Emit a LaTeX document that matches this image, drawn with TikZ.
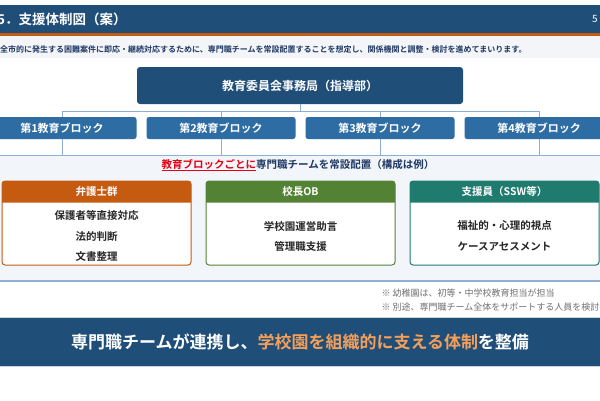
\documentclass[tikz,border=0pt]{standalone}
\usepackage{fontspec}
\setmainfont{Noto Sans CJK JP}[BoldFont={* Bold}]
\usepackage{xcolor}
\usepackage{tikz}
\usetikzlibrary{positioning,calc}
\definecolor{navy800}{HTML}{1F4E79}
\definecolor{navy900}{HTML}{1F3864}
\definecolor{blue600}{HTML}{2E6DA4}
\definecolor{blue300}{HTML}{8EAFD4}
\definecolor{band50}{HTML}{F2F6FB}
\definecolor{gray50}{HTML}{F3F5F8}
\definecolor{gray600}{HTML}{707070}
\definecolor{ink800}{HTML}{262626}
\definecolor{orange600}{HTML}{C55A11}
\definecolor{orange300}{HTML}{F5A05A}
\definecolor{green700}{HTML}{548235}
\definecolor{teal700}{HTML}{1E7B6E}
\definecolor{red600}{HTML}{E60012}
\newcommand{\fsz}[1]{\fontsize{#1}{#1}\selectfont}
\tikzset{
  hq/.style={
    rectangle, rounded corners=3pt, fill=navy800,
    minimum width=326pt, minimum height=37pt,
    text=white, font=\bfseries\fsz{12}
  },
  blk/.style={
    rectangle, rounded corners=2.5pt, fill=blue600,
    minimum width=149pt, minimum height=22pt,
    text=white, font=\bfseries\fsz{11}
  },
  link/.style={draw=blue300, line width=1pt},
  card/.style={
    rectangle, rounded corners=3pt, draw=#1, line width=1pt, fill=white,
    minimum width=189pt, minimum height=84pt
  },
  cardhead/.style={text=white, font=\bfseries\fsz{10.5}},
  cardbody/.style={
    align=center, text=ink800,
    font=\bfseries\fontsize{10.5}{20.5}\selectfont
  },
  note/.style={anchor=west, text=gray600, font=\fsz{9}},
}

\begin{document}
\begin{tikzpicture}[x=1pt, y=-1pt]
  \useasboundingbox (0,0) rectangle (600,400);
  \fill[white] (0,0) rectangle (600,400);
  \fill[navy800] (-1,5) rectangle (601,33);
  \fill[orange600] (-1,33) rectangle (601,36);
  \fill[gray50] (-1,36) rectangle (601,58);
  \node[anchor=west, inner sep=0pt, text=white, font=\bfseries\fsz{13.5}] (title) at (-3,19.5) {5．支援体制図（案）};
  \node[anchor=west, inner sep=0pt, text=white, font=\fsz{10}] (pageno) at (592,19.5) {5 /};
  \node[anchor=west, inner sep=0pt, text=navy900, font=\bfseries\fsz{8}] (lead) at (0,49) {全市的に発生する困難案件に即応・継続対応するために、専門職チームを常設配置することを想定し、関係機関と調整・検討を進めてまいります。};

  \node[hq] (hq) at (300,85.5) {教育委員会事務局（指導部）};
  \node[blk] (blk1) at (62,128) {第1教育ブロック};
  \node[blk] (blk2) at (221,128) {第2教育ブロック};
  \node[blk] (blk3) at (380,128) {第3教育ブロック};
  \node[blk] (blk4) at (539,128) {第4教育ブロック};
  \coordinate (bus) at (300,111);
  \coordinate (bandtop) at (0,155);
  \draw[link] (hq.south) -- (bus);
  \draw[link] (blk1.north) |- (bus);
  \draw[link] (blk2.north) |- (bus);
  \draw[link] (blk3.north) |- (bus);
  \draw[link] (blk4.north) |- (bus);

  \fill[band50] (-1,155) rectangle (601,281);
  \draw[draw=blue300, line width=0.8pt] (-1,155) -- (601,155);
  \draw[draw=blue300, line width=1.2pt] (-1,281) -- (601,281);
  \draw[link] (blk1.south) -- (blk1.south |- bandtop);
  \draw[link] (blk2.south) -- (blk2.south |- bandtop);
  \draw[link] (blk3.south) -- (blk3.south |- bandtop);
  \draw[link] (blk4.south) -- (blk4.south |- bandtop);

  \node[font=\bfseries\fsz{10.5}, text=navy900] (teamnote) at (298,165) {\textcolor{red600}{\underline{教育ブロックごとに}}専門職チームを常設配置（構成は例）};

  \node[card=orange600] (card1) at (96.5,223) {};
  \node[card=green700] (card2) at (300.5,223) {};
  \node[card=teal700] (card3) at (504.5,223) {};
  \fill[orange600] ($(card1.north west)+(0.5,22)$) [rounded corners=3pt] -- ($(card1.north west)+(0.5,0.5)$) -- ($(card1.north east)+(-0.5,0.5)$) [sharp corners] -- ($(card1.north east)+(-0.5,22)$) -- cycle;
  \fill[green700] ($(card2.north west)+(0.5,22)$) [rounded corners=3pt] -- ($(card2.north west)+(0.5,0.5)$) -- ($(card2.north east)+(-0.5,0.5)$) [sharp corners] -- ($(card2.north east)+(-0.5,22)$) -- cycle;
  \fill[teal700] ($(card3.north west)+(0.5,22)$) [rounded corners=3pt] -- ($(card3.north west)+(0.5,0.5)$) -- ($(card3.north east)+(-0.5,0.5)$) [sharp corners] -- ($(card3.north east)+(-0.5,22)$) -- cycle;
  \node[cardhead] (head1) at ($(card1.north)+(0,11)$) {弁護士群};
  \node[cardhead] (head2) at ($(card2.north)+(0,11)$) {校長OB};
  \node[cardhead] (head3) at ($(card3.north)+(0,11)$) {支援員（SSW等）};
  \node[cardbody] (body1) at (96.5,236) {保護者等直接対応\\法的判断\\文書整理};
  \node[cardbody] (body2) at (300.5,236.5) {学校園運営助言\\管理職支援};
  \node[cardbody] (body3) at (504.5,236) {福祉的・心理的視点\\ケースアセスメント};

  \node[note] (note1) at (378,293) {※ 幼稚園は、初等・中学校教育担当が担当};
  \node[note] (note2) at (378,307.5) {※ 別途、専門職チーム全体をサポートする人員を検討};

  \node[fill=navy800, draw=gray!35, line width=0.8pt, minimum width=604pt, minimum height=49pt, text=white, font=\bfseries\fsz{17}] (banner) at (300,341.5) {専門職チームが連携し、\textcolor{orange300}{学校園を組織的に支える体制}を整備};
\end{tikzpicture}
\end{document}
